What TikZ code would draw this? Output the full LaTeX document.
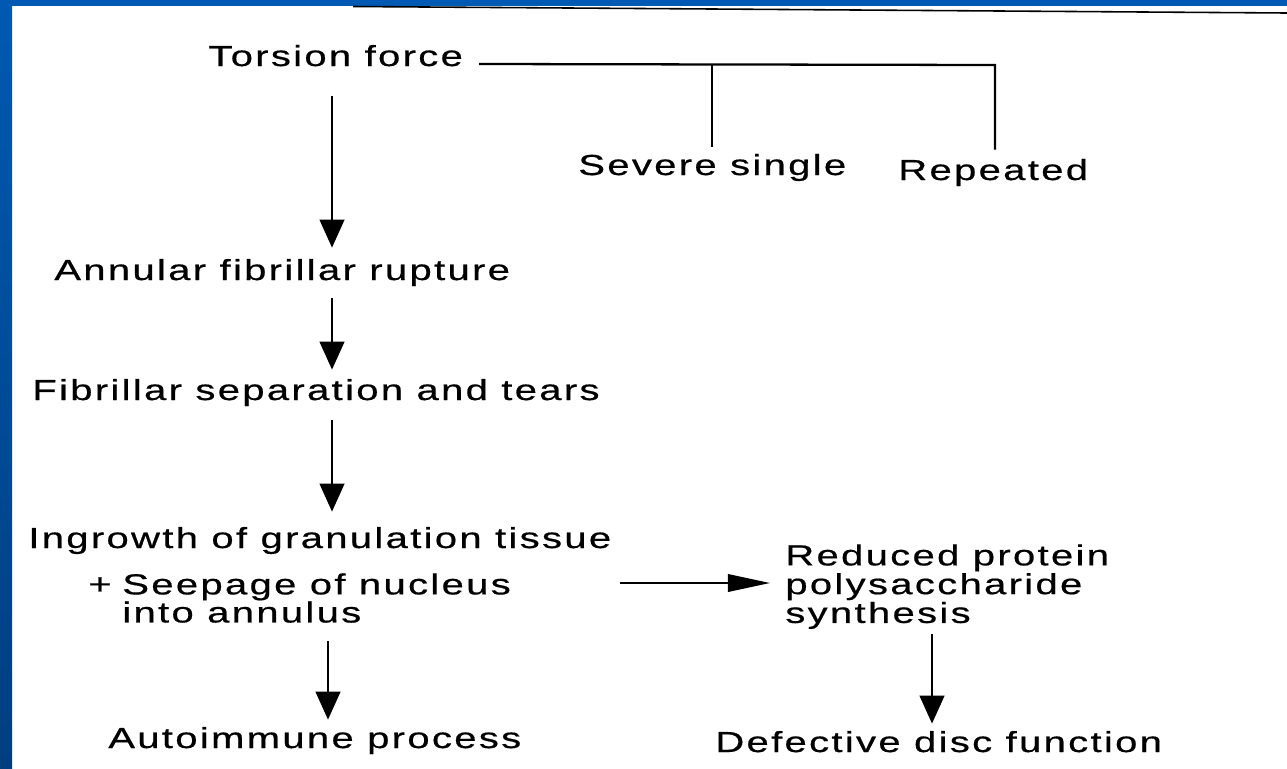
\documentclass[tikz,border=0pt]{standalone}
\usepackage{fontspec}
\setmainfont{Liberation Sans}[FakeStretch=1.38,LetterSpace=8,FakeBold=0.6]
\usetikzlibrary{arrows.meta}

\definecolor{slideBlueTop}{RGB}{0,89,178}
\definecolor{slideBlueBottom}{RGB}{0,62,128}
\definecolor{slideInk}{RGB}{0,0,0}

\begin{document}
\begin{tikzpicture}[x=.02cm,y=-.02cm,
      stage/.style={font=\fontsize{16.5}{16}\selectfont, text=slideInk,
        anchor=base west, inner sep=0pt, align=left},
      flow/.style={draw=slideInk, line width=1.6pt,
        -{Triangle[length=16pt,width=14pt]}},
      sideflow/.style={draw=slideInk, line width=1.1pt,
        -{Triangle[length=24pt,width=10pt]}},
      bracket/.style={draw=slideInk, line width=1.3pt}]
      \useasboundingbox (0,0) rectangle (1287,768);
      \fill[white] (0,0) rectangle (1287,768);
      \shade[top color=slideBlueTop, bottom color=slideBlueBottom]
        (0,0) rectangle (12,768);
      \fill[slideBlueTop] (0,0) rectangle (1287,6);
      % scan edge along the top
      \draw[slideInk, line width=.9pt] (353,6.5) -- (1287,13);

      \node[stage] (torsion) at (208,66) {Torsion force};
      \node[stage] (severe) at (578,175) {Severe single};
      \node[stage] (repeated) at (898,180) {Repeated};
      \node[stage] (annular) at (54,280) {Annular fibrillar rupture};
      \node[stage] (fibrillar) at (32,400) {Fibrillar separation and tears};
      \node[stage] (ingrowth) at (28,548) {Ingrowth of granulation tissue};
      \node[stage] (plus) at (88,594) {+};
      \node[stage, anchor=north west, font=\fontsize{16.5}{16}\selectfont]
        (seepage) at (122,573) {Seepage of nucleus\\into annulus};
      \node[stage] (autoimmune) at (108,748) {Autoimmune process};
      \node[stage, anchor=north west, font=\fontsize{16.5}{15.3}\selectfont]
        (reduced) at (785,544) {Reduced protein\\polysaccharide\\synthesis};
      \node[stage] (defective) at (715,752) {Defective disc function};

      \coordinate (spine) at (332,0);
      \coordinate (lowspine) at (328,0);
      \coordinate (sidespine) at (932,0);
      \coordinate (split) at (712,64);
      \coordinate (corner) at (995,65);
      \coordinate (tail) at (620,583);

      \draw[bracket, shorten >=.18cm] ([xshift=.32cm]torsion.east |- split)
        -- (corner) -- (corner |- repeated.north);
      \draw[bracket, shorten >=.14cm] (split) -- (split |- severe.north);

      \draw[flow, shorten <=.58cm, shorten >=.22cm]
        (torsion.south -| spine) -- (annular.north -| spine);
      \draw[flow, shorten <=.24cm, shorten >=.18cm]
        (annular.south -| spine) -- (fibrillar.north -| spine);
      \draw[flow, shorten <=.28cm, shorten >=.30cm]
        (fibrillar.south -| spine) -- (ingrowth.north -| spine);
      \draw[flow, shorten <=.36cm, shorten >=.14cm]
        (seepage.south -| lowspine) -- (autoimmune.north -| lowspine);
      \draw[sideflow, shorten >=.3cm] (tail) -- (tail -| reduced.west);
      \draw[flow, shorten <=.1cm, shorten >=.14cm]
        (reduced.south -| sidespine) -- (defective.north -| sidespine);
    \end{tikzpicture}
\end{document}
